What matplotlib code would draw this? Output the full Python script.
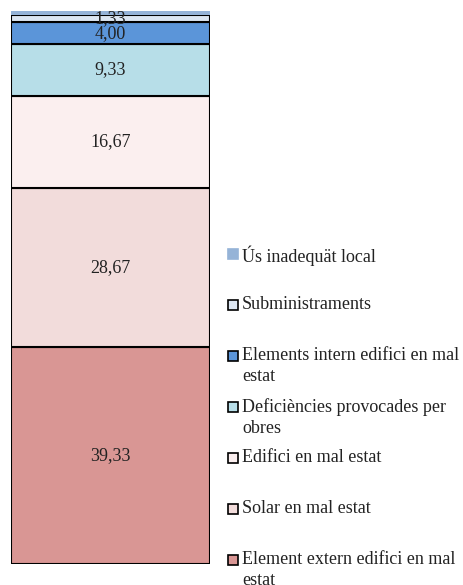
import matplotlib.pyplot as plt
from matplotlib.patches import Rectangle

# dades (de baix a dalt)
categories = [
    "Element extern edifici en mal\nestat",
    "Solar en mal estat",
    "Edifici en mal estat",
    "Deficiències provocades per\nobres",
    "Elements intern edifici en mal\nestat",
    "Subministraments",
    "Ús inadequät local",
]
values = [39.33, 28.67, 16.67, 9.33, 4.00, 1.33, 0.67]
colors = ["#D99694", "#F2DCDB", "#FBEFEF", "#B7DEE8", "#5B95D9", "#DCE6F2", "#95B3D7"]
edges = ["black", "black", "black", "black", "black", "black", "none"]
show_label = [True, True, True, True, True, True, False]

plt.rcParams['font.family'] = ['Liberation Serif', 'DejaVu Serif']

fig = plt.figure(figsize=(4.64, 5.85), dpi=100)
ax = fig.add_axes([11 / 464, 21 / 585, 199 / 464, 553 / 585])

bottom = 0
for v, c, e, lab in zip(values, colors, edges, show_label):
    ax.bar(0, v, bottom=bottom, width=1, color=c, edgecolor=e, linewidth=1.5)
    if lab:
        ax.text(0, bottom + v / 2, f"{v:.2f}".replace('.', ','),
                ha='center', va='center', fontsize=13, color='#222222')
    bottom += v

ax.set_xlim(-0.5, 0.5)
ax.set_ylim(0, sum(values))
ax.axis('off')

# llegenda manual, de dalt a baix
y0 = 1 - 254 / 585
step = 51 / 585
for i, (cat, c, e) in enumerate(zip(categories[::-1], colors[::-1], edges[::-1])):
    y = y0 - i * step
    fig.patches.append(Rectangle((228 / 464, y - 5 / 585), 10 / 464, 10 / 585,
                                 transform=fig.transFigure, facecolor=c,
                                 edgecolor='black' if e != 'none' else c,
                                 linewidth=1.2))
    fig.text(242 / 464, y + 9 / 585, cat, ha='left', va='top', fontsize=13,
             linespacing=1.3, color='#222222')

fig.savefig("out.png", dpi=100)
